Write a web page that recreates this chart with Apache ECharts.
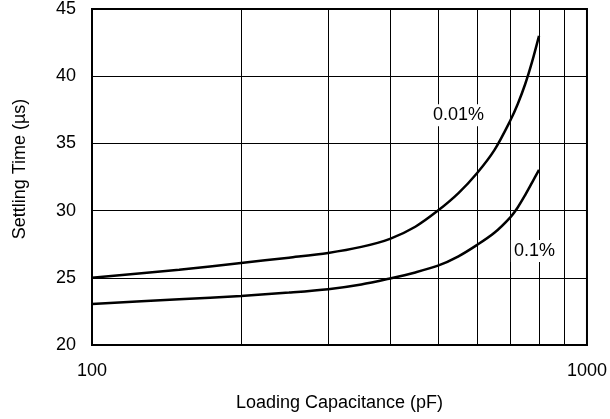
<!DOCTYPE html>
<html>
<head>
<meta charset="utf-8">
<script src="https://cdn.jsdelivr.net/npm/echarts@6/dist/echarts.min.js"></script>
<style>
html,body{margin:0;padding:0;background:#fff;}
#c{width:610px;height:419px;}
</style>
</head>
<body>
<div id="c"></div>
<script>
var capacitance = [100, 150, 200, 250, 300, 350, 400, 450, 500, 550, 600, 650, 700, 725, 750, 775, 800];
var settle001 = [25.0, 25.6, 26.1, 26.5, 26.85, 27.3, 27.9, 28.8, 30.0, 31.3, 32.8, 34.5, 36.7, 37.95, 39.4, 41.1, 43.0];
var settle01 = [23.05, 23.4, 23.65, 23.9, 24.15, 24.5, 24.95, 25.4, 25.9, 26.6, 27.45, 28.35, 29.5, 30.25, 31.15, 32.1, 33.03];
var minorGridX = [200, 300, 400, 500, 600, 700, 800, 900];
var xTickLabels = [100, 1000];

function pairs(xs, ys){ return xs.map(function(x,i){ return [x, ys[i]]; }); }

var FONT = 'Liberation Sans, Arial, Helvetica, sans-serif';
var chart = echarts.init(document.getElementById('c'), null, {renderer:'canvas'});
chart.setOption({
  animation: false,
  backgroundColor: '#fff',
  grid: {left: 92, right: 22, top: 9, bottom: 74, show: true, borderColor: '#000', borderWidth: 2, backgroundColor: 'transparent'},
  xAxis: {
    type: 'log', logBase: 10, min: 100, max: 1000,
    name: 'Loading Capacitance (pF)', nameLocation: 'middle', nameGap: 49,
    nameTextStyle: {fontFamily: FONT, fontSize: 18, color: '#000'},
    axisLine: {show: true, lineStyle: {color: '#000', width: 2}},
    axisTick: {show: false},
    splitLine: {show: false},
    axisLabel: {fontFamily: FONT, fontSize: 18, color: '#000', margin: 17,
      formatter: function(v){ return xTickLabels.indexOf(Math.round(v)) >= 0 ? String(Math.round(v)) : ''; }}
  },
  yAxis: {
    type: 'value', min: 20, max: 45, interval: 5,
    name: 'Settling Time (\u00b5s)', nameLocation: 'middle', nameGap: 63,
    nameTextStyle: {fontFamily: FONT, fontSize: 18, color: '#000', padding: [0,0,0,16]},
    axisLine: {show: true, lineStyle: {color: '#000', width: 2}},
    axisTick: {show: false},
    splitLine: {show: true, lineStyle: {color: '#000', width: 1}},
    axisLabel: {fontFamily: FONT, fontSize: 18, color: '#000', margin: 16}
  },
  series: [
    {
      type: 'line', data: pairs(capacitance, settle001), smooth: 0.3, showSymbol: false,
      lineStyle: {color: '#000', width: 2.5}, z: 5,
      markLine: {
        silent: true, symbol: 'none', label: {show: false},
        lineStyle: {color: '#000', width: 1, type: 'solid'},
        data: minorGridX.map(function(v){ return {xAxis: v}; }),
        z: 1
      },
      markPoint: {
        symbol: 'rect', symbolSize: 0,
        label: {show: true, formatter: '{b}', fontFamily: FONT, fontSize: 18, color: '#000', backgroundColor: '#fff', padding: [2,3,2,3], position: 'inside'},
        data: [{name: '0.01%', coord: [550, 37.1]}],
        z: 10
      }
    },
    {
      type: 'line', data: pairs(capacitance, settle01), smooth: 0.3, showSymbol: false,
      lineStyle: {color: '#000', width: 2.5}, z: 5,
      markPoint: {
        symbol: 'rect', symbolSize: 0,
        label: {show: true, formatter: '{b}', fontFamily: FONT, fontSize: 18, color: '#000', backgroundColor: '#fff', padding: [2,3,2,3], position: 'inside'},
        data: [{name: '0.1%', coord: [783, 27.0]}],
        z: 10
      }
    }
  ]
});
</script>
</body>
</html>
